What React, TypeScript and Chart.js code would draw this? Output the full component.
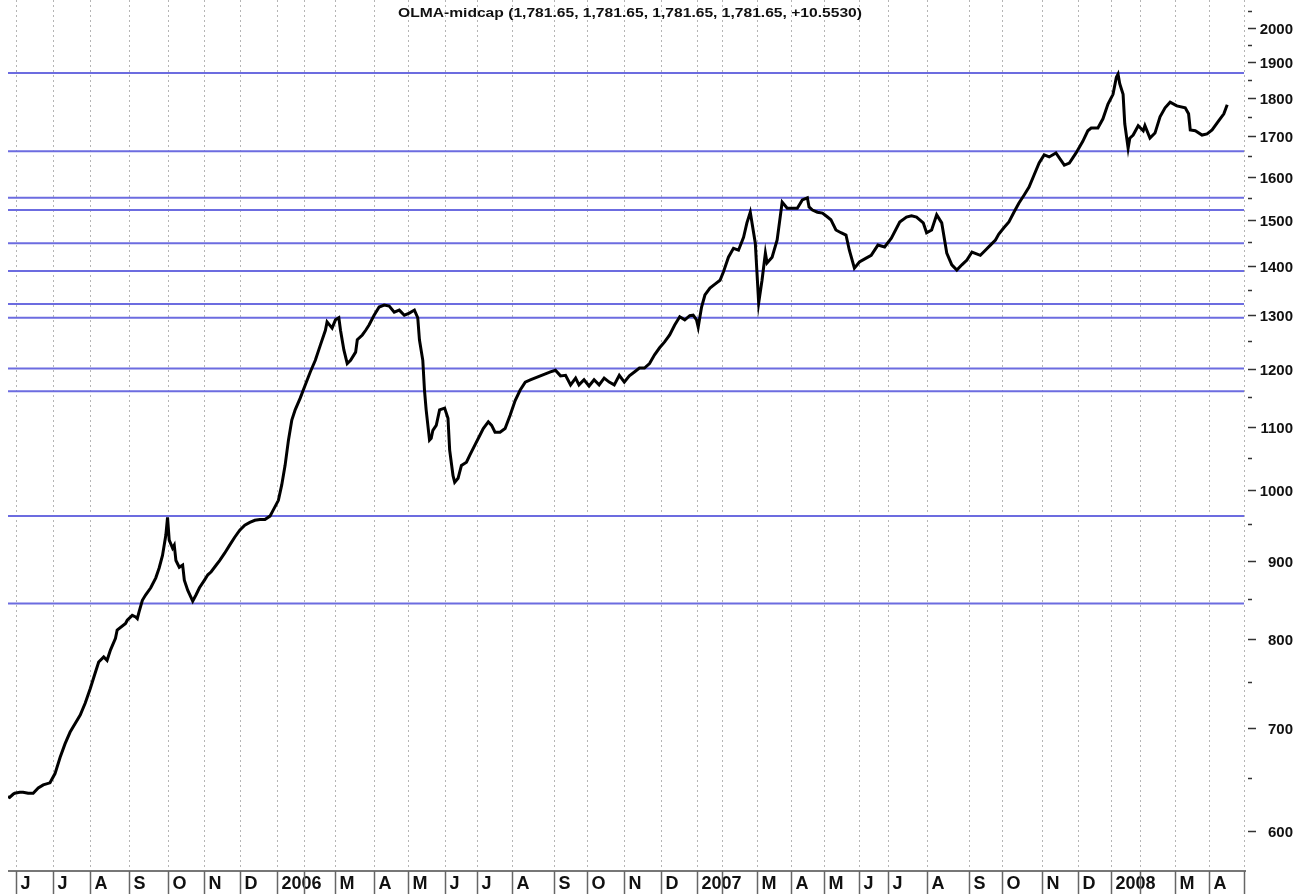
import React, { useEffect, useRef } from "react";
import { Chart, registerables } from "chart.js";

Chart.register(...registerables);

const TITLE = "OLMA-midcap (1,781.65, 1,781.65, 1,781.65, 1,781.65, +10.5530)";

// trading-session index of each close
const sessions = [
  0, 1, 3, 4, 7, 9, 12, 15, 18, 21,
  25, 28, 31, 34, 37, 40, 43, 46, 49, 52,
  54, 57, 59, 61, 64, 65, 70, 71, 74, 76,
  77, 78, 80, 82, 85, 88, 90, 92, 94, 95,
  96, 98, 99, 100, 102, 104, 105, 107, 110, 112,
  114, 117, 119, 121, 124, 126, 129, 132, 135, 138,
  141, 144, 147, 150, 153, 156, 158, 161, 163, 165,
  167, 169, 171, 174, 177, 180, 183, 186, 189, 190,
  193, 195, 197, 198, 200, 202, 204, 207, 208, 211,
  213, 215, 218, 221, 224, 227, 230, 233, 236, 239,
  242, 244, 245, 247, 248, 249, 251, 252, 253, 255,
  257, 260, 262, 263, 265, 266, 268, 270, 273, 275,
  278, 281, 283, 286, 288, 290, 293, 296, 299, 302,
  305, 308, 311, 317, 323, 326, 329, 332, 335, 338,
  340, 343, 346, 349, 352, 355, 358, 361, 364, 367,
  370, 373, 376, 379, 382, 385, 388, 391, 394, 397,
  400, 403, 406, 408, 410, 411, 413, 415, 418, 421,
  424, 426, 429, 432, 435, 438, 440, 442, 445, 446,
  447, 449, 451, 452, 455, 458, 461, 464, 467, 470,
  473, 476, 477, 479, 482, 485, 488, 490, 493, 496,
  499, 501, 504, 507, 511, 514, 518, 522, 526, 531,
  535, 538, 541, 545, 547, 550, 553, 556, 559, 562,
  565, 568, 571, 574, 579, 582, 585, 588, 590, 593,
  596, 599, 602, 605, 608, 611, 614, 617, 620, 624,
  629, 632, 636, 640, 643, 645, 649, 652, 655, 658,
  660, 661, 662, 664, 665, 667, 668, 670, 673, 676,
  677, 680, 683, 686, 689, 692, 696, 701, 703, 704,
  707, 711, 714, 717, 721, 724, 726,
];

const closes = [
  632, 631, 634, 635, 636, 636, 635, 635, 640, 643,
  645, 654, 670, 684, 696, 705, 714, 727, 743, 761,
  773, 779, 775, 787, 801, 811, 819, 823, 829, 827,
  825, 833, 848, 855, 864, 877, 890, 907, 935, 960,
  928, 917, 921, 900, 891, 894, 874, 861, 847, 855,
  864, 874, 881, 885, 894, 900, 910, 921, 932, 942,
  949, 953, 956, 957, 957, 962, 971, 985, 1008, 1038,
  1078, 1111, 1128, 1148, 1171, 1194, 1215, 1243, 1271, 1287,
  1275, 1291, 1295, 1271, 1234, 1209, 1215, 1230, 1253, 1262,
  1271, 1281, 1300, 1316, 1320, 1318, 1306, 1310, 1300, 1304,
  1310, 1295, 1253, 1215, 1162, 1128, 1078, 1081, 1094, 1102,
  1128, 1131, 1114, 1062, 1022, 1012, 1018, 1038, 1043, 1054,
  1070, 1086, 1097, 1108, 1102, 1091, 1091, 1097, 1119, 1144,
  1162, 1176, 1180, 1187, 1194, 1197, 1187, 1188, 1171, 1183,
  1171, 1180, 1169, 1180, 1171, 1183, 1176, 1171, 1188, 1176,
  1187, 1194, 1201, 1201, 1209, 1225, 1238, 1249, 1262, 1281,
  1297, 1291, 1299, 1300, 1291, 1277, 1316, 1340, 1354, 1362,
  1370, 1387, 1418, 1437, 1433, 1461, 1493, 1517, 1448, 1385,
  1324, 1370, 1427, 1406, 1418, 1455, 1540, 1526, 1526, 1526,
  1545, 1550, 1529, 1522, 1517, 1515, 1506, 1500, 1477, 1471,
  1466, 1433, 1395, 1408, 1416, 1422, 1444, 1440, 1459, 1495,
  1506, 1509, 1506, 1493, 1471, 1477, 1511, 1493, 1427, 1402,
  1391, 1402, 1412, 1429, 1422, 1433, 1444, 1455, 1468, 1482,
  1495, 1517, 1538, 1556, 1575, 1604, 1633, 1653, 1648, 1658,
  1628, 1633, 1658, 1687, 1714, 1721, 1721, 1745, 1784, 1810,
  1857, 1866, 1839, 1810, 1732, 1670, 1695, 1703, 1727, 1714,
  1727, 1695, 1708, 1750, 1774, 1789, 1779, 1774, 1758, 1716,
  1714, 1703, 1706, 1716, 1740, 1758, 1782,
];

// horizontal support / resistance levels
const levels = [1869, 1662, 1550, 1522, 1448, 1389, 1322, 1295, 1200, 1160, 962, 844];

// session index where each month starts, and its label
const monthStarts = [
  5, 27, 49, 72, 95, 117, 138, 160, 176, 195, 218, 238, 260, 279, 300, 325, 345, 367,
  389, 410, 425, 446, 466, 486, 507, 524, 547, 572, 592, 616, 637, 657, 674, 695, 715, 736,
];
const monthLabels = [
  "J", "J", "A", "S", "O", "N", "D", "2006", "", "M", "A", "M", "J", "J", "A", "S", "O", "N",
  "D", "2007", "", "M", "A", "M", "J", "J", "A", "S", "O", "N", "D", "2008", "", "M", "A", "",
];

const yMajorTicks = [600, 700, 800, 900, 1000, 1100, 1200, 1300, 1400, 1500, 1600, 1700, 1800, 1900, 2000];
const yMinorTicks = [650, 750, 850, 950, 1050, 1150, 1250, 1350, 1450, 1550, 1650, 1750, 1850, 1950, 2050];

const X_MIN = 0;
const X_MAX = 736;
const Y_MIN = 566;
const Y_MAX = 2085;

const FONT = '"Liberation Sans", Arial, Helvetica, sans-serif';

const decor = {
  id: "decor",
  beforeDatasetsDraw(chart: any) {
    const { ctx, chartArea: a, scales } = chart;
    const x = scales.x;
    ctx.save();
    ctx.strokeStyle = "#b5b5b5";
    ctx.lineWidth = 1;
    ctx.setLineDash([2, 3]);
    monthStarts.forEach((m) => {
      const px = Math.round(x.getPixelForValue(m)) + 0.5;
      ctx.beginPath();
      ctx.moveTo(px, a.top);
      ctx.lineTo(px, a.bottom);
      ctx.stroke();
    });
    ctx.restore();
  },
  afterDraw(chart: any) {
    const { ctx, chartArea: a, scales } = chart;
    const x = scales.x;
    const y = scales.y;
    const H = chart.height;
    ctx.save();

    // bottom axis line
    ctx.strokeStyle = "#777";
    ctx.lineWidth = 2;
    ctx.beginPath();
    ctx.moveTo(a.left, a.bottom + 1);
    ctx.lineTo(a.right + 2, a.bottom + 1);
    ctx.stroke();

    // month boxes and labels
    ctx.font = `bold 18px ${FONT}`;
    ctx.fillStyle = "#111";
    ctx.textAlign = "left";
    ctx.textBaseline = "alphabetic";
    monthStarts.forEach((m, i) => {
      const px = Math.round(x.getPixelForValue(m)) + 0.5;
      if (monthLabels[i]) ctx.fillText(monthLabels[i], px + 4, H - 5);
    });
    ctx.strokeStyle = "#666";
    ctx.lineWidth = 1.5;
    monthStarts.forEach((m) => {
      const px = Math.round(x.getPixelForValue(m)) + 0.5;
      ctx.beginPath();
      ctx.moveTo(px, a.bottom + 1);
      ctx.lineTo(px, H);
      ctx.stroke();
    });

    // right axis ticks and labels
    ctx.strokeStyle = "#333";
    ctx.lineWidth = 1.5;
    yMinorTicks.forEach((v) => {
      const py = Math.round(y.getPixelForValue(v)) + 0.5;
      if (py < a.top || py > a.bottom) return;
      ctx.beginPath();
      ctx.moveTo(a.right + 4, py);
      ctx.lineTo(a.right + 8, py);
      ctx.stroke();
    });
    ctx.font = `bold 15px ${FONT}`;
    ctx.fillStyle = "#111";
    ctx.textAlign = "right";
    ctx.textBaseline = "middle";
    yMajorTicks.forEach((v) => {
      const py = Math.round(y.getPixelForValue(v)) + 0.5;
      ctx.beginPath();
      ctx.moveTo(a.right + 4, py);
      ctx.lineTo(a.right + 12, py);
      ctx.stroke();
      ctx.fillText(String(v), a.right + 49, py + 1);
    });

    // title
    ctx.font = `bold 12px ${FONT}`;
    const w = ctx.measureText(TITLE).width;
    ctx.translate(630, 14);
    ctx.scale(464 / w, 1);
    ctx.textAlign = "center";
    ctx.textBaseline = "middle";
    ctx.fillStyle = "#111";
    ctx.fillText(TITLE, 0, 0);
    ctx.restore();
  },
};

export default function App() {
  const ref = useRef<HTMLCanvasElement | null>(null);
  useEffect(() => {
    if (!ref.current) return;
    const chart = new Chart(ref.current, {
      type: "line",
      data: {
        datasets: [
          {
            data: sessions.map((s, i) => ({ x: s, y: closes[i] })),
            borderColor: "#000",
            borderWidth: 3,
            pointRadius: 0,
            tension: 0,
          },
          ...levels.map((l) => ({
            data: [
              { x: X_MIN, y: l },
              { x: X_MAX, y: l },
            ],
            borderColor: "#6c6ce0",
            borderWidth: 2,
            pointRadius: 0,
          })),
        ],
      },
      options: {
        animation: false,
        responsive: false,
        devicePixelRatio: 1,
        layout: { padding: { left: 8, right: 63, top: 0, bottom: 24 } },
        plugins: { legend: { display: false }, tooltip: { enabled: false } },
        scales: {
          x: { type: "linear", min: X_MIN, max: X_MAX, display: false },
          y: { type: "logarithmic", min: Y_MIN, max: Y_MAX, display: false },
        },
      },
      plugins: [decor],
    } as any);
    return () => chart.destroy();
  }, []);
  return (
    <div style={{ position: "absolute", left: 0, top: 0, width: 1307, height: 894, background: "#fff" }}>
      <canvas ref={ref} width={1307} height={894} style={{ display: "block" }} />
    </div>
  );
}
